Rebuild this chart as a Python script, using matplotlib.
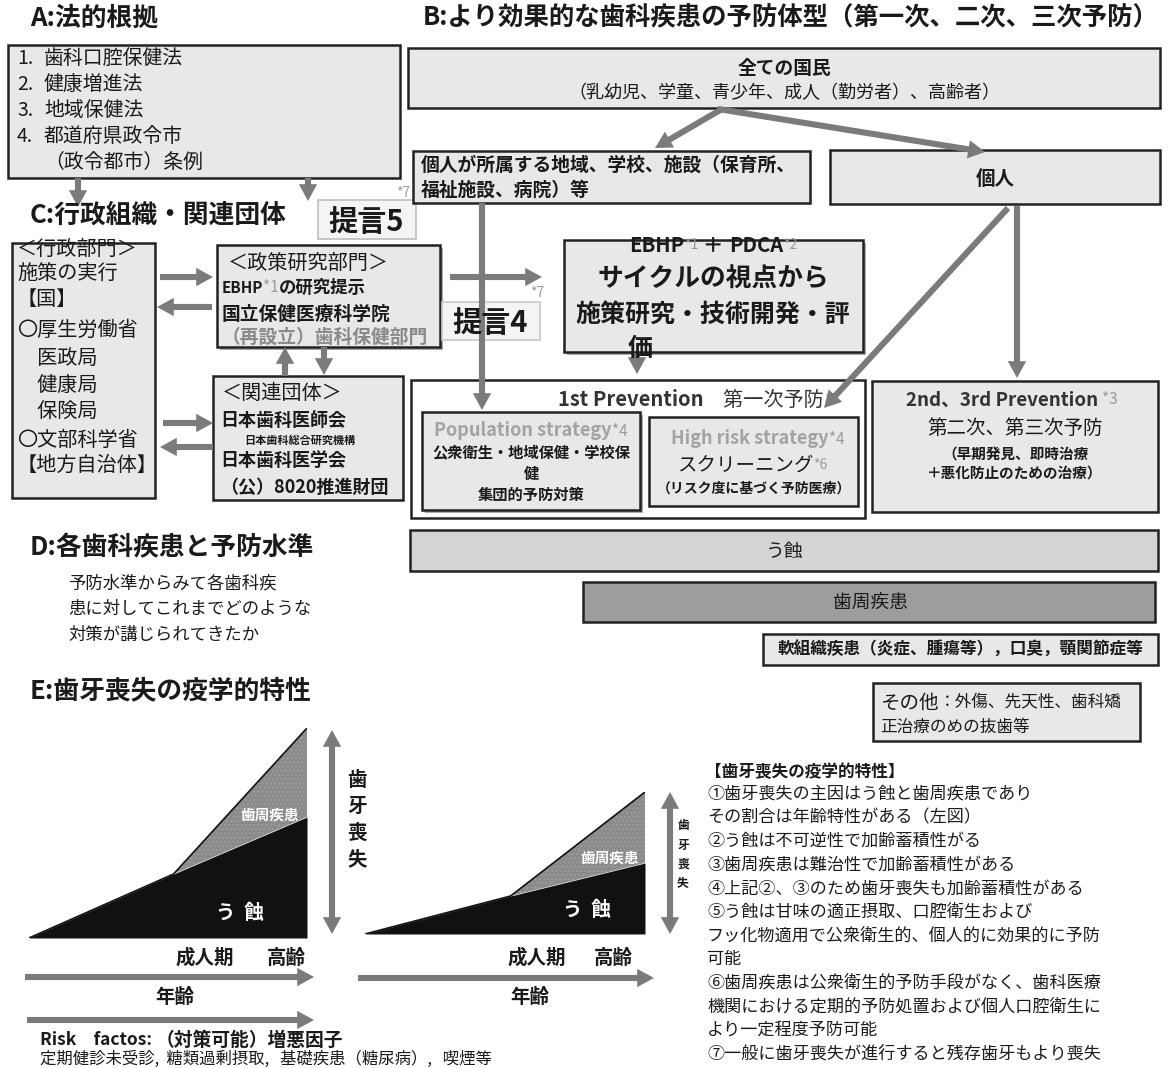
import matplotlib
matplotlib.use('Agg')
import matplotlib.pyplot as plt
from matplotlib.patches import Rectangle, FancyArrowPatch

plt.rcParams['font.family'] = ['Noto Sans CJK JP', 'DejaVu Sans']

# ---- texts ----
title_a = 'A:法的根拠'
title_b = 'B:より効果的な歯科疾患の予防体型（第一次、二次、三次予防）'
title_c = 'C:行政組織・関連団体'
title_d = 'D:各歯科疾患と予防水準'
title_e = 'E:歯牙喪失の疫学的特性'

law_nums = ['1.', '2.', '3.', '4.', '']
law_items = ['歯科口腔保健法', '健康増進法', '地域保健法', '都道府県政令市', '（政令都市）条例']

admin_lines = ['＜行政部門＞', '施策の実行', '【国】', '〇厚生労働省', '　医政局', '　健康局',
               '　保険局', '〇文部科学省', '【地方自治体】']

d_lines = ['予防水準からみて各歯科疾', '患に対してこれまでどのような', '対策が講じられてきたか']

notes_title = '【歯牙喪失の疫学的特性】'
notes = ['①歯牙喪失の主因はう蝕と歯周疾患であり',
         'その割合は年齢特性がある（左図）',
         '②う蝕は不可逆性で加齢蓄積性がる',
         '③歯周疾患は難治性で加齢蓄積性がある',
         '④上記②、③のため歯牙喪失も加齢蓄積性がある',
         '⑤う蝕は甘味の適正摂取、口腔衛生および',
         'フッ化物適用で公衆衛生的、個人的に効果的に予防',
         '可能',
         '⑥歯周疾患は公衆衛生的予防手段がなく、歯科医療',
         '機関における定期的予防処置および個人口腔衛生に',
         'より一定程度予防可能',
         '⑦一般に歯牙喪失が進行すると残存歯牙もより喪失']

risk_title = ('Risk　factos: ', '（対策可能）増悪因子')
risk_items = '定期健診未受診,  糖類過剰摂取,   基礎疾患（糖尿病）,   喫煙等'

# ---- tooth loss curves (relative units) ----
age_pts = [0, 52, 100]
caries_left = [0, 64, 121]
total_left = [0, 64, 210]
caries_right = [0, 38, 71]
total_right = [0, 38, 142]

BOX = '#e8e8e8'
ARR = '#7b7b7b'
STAR = '#9a9a9a'

W, H = 1168, 1068
fig = plt.figure(figsize=(W / 100, H / 100), dpi=100)
ax = fig.add_axes([0, 0, 1, 1])
ax.set_xlim(0, W)
ax.set_ylim(H, 0)
ax.axis('off')
renderer = fig.canvas.get_renderer()


def box(x0, y0, x1, y1, fc=BOX, ec='#222222', lw=1.8, shadow=False, z=1):
    if shadow:
        ax.add_patch(Rectangle((x0 + 3, y0 + 3), x1 - x0, y1 - y0, fc='#aaaaaa', ec='none', zorder=z - 0.1))
    ax.add_patch(Rectangle((x0, y0), x1 - x0, y1 - y0, fc=fc, ec=ec, lw=lw, zorder=z))


def t(x, y, s, size=13, bold=False, color='#1a1a1a', ha='left', va='center', z=5, on=None):
    target = on if on is not None else ax
    return target.text(x, y, s, fontsize=size, fontweight='bold' if bold else 'normal',
                       color=color, ha=ha, va=va, zorder=z, transform=ax.transData, clip_on=False)


def runs(x, y, pieces, ha='left', z=5):
    # pieces: (text, size, bold, color)
    objs = []
    cx = x
    for s, size, bold, color in pieces:
        o = t(cx, y, s, size, bold, color, z=z)
        w = o.get_window_extent(renderer).width
        objs.append(o)
        cx += w
    total = cx - x
    if ha == 'center':
        for o in objs:
            o.set_x(o.get_position()[0] - total / 2)
    return objs


def arrow(x0, y0, x1, y1, tw=0.2, hw=0.6, hl=0.55, z=3):
    ax.add_patch(FancyArrowPatch((x0, y0), (x1, y1),
                                 arrowstyle=f'simple,head_length={hl},head_width={hw},tail_width={tw}',
                                 mutation_scale=22, color=ARR, lw=0, shrinkA=0, shrinkB=0, zorder=z))


def dbl_arrow(x, y0, y1):
    m = (y0 + y1) / 2
    arrow(x, m, x, y0)
    arrow(x, m, x, y1)


# ---- section titles ----
t(30, 18, title_a, 18.5, True)
t(423, 18, title_b, 18.3, True)
t(30, 215, title_c, 18.5, True)
t(30, 548, title_d, 18.5, True)
t(30, 691, title_e, 18.5, True)

# ---- A ----
box(8, 45, 400, 178)
for i, (n, s) in enumerate(zip(law_nums, law_items)):
    y = 58 + i * 26.2
    t(17, y, n, 14)
    t(44, y, s, 14.3)
arrow(78, 178, 78, 207)
arrow(308, 178, 308, 201)

# 提言5
box(318, 200, 416, 239, fc='#f4f4f4', ec='#bdbdbd', lw=1.2)
t(366, 222, '提言5', 21, True, ha='center')
t(403, 193, '*7', 10, color=STAR, ha='center')

# ---- C ----
box(12, 243, 155, 498)
admin_y = [249, 273, 299, 330, 358, 385, 412, 440, 465]
for s, y in zip(admin_lines, admin_y):
    t(17, y, s, 14.5)

box(217, 245, 440, 347, shadow=True)
t(228, 263, '＜政策研究部門＞', 14.5)
runs(222, 288, [('EBHP', 11, True, '#1a1a1a'), ('*1', 11, False, STAR), ('の研究提示', 12.5, True, '#1a1a1a')])
t(222, 314, '国立保健医療科学院', 13.5, True)
t(222, 337, '（再設立）歯科保健部門', 13.5, True, color='#8a8a8a')

box(213, 376, 403, 500)
t(222, 393, '＜関連団体＞', 14.5)
t(220, 420, '日本歯科医師会', 13, True)
t(244, 440, '日本歯科総合研究機構', 8, True)
t(220, 461, '日本歯科医学会', 13, True)
t(220, 487, '（公）8020推進財団', 13, True)

arrow(160, 277, 213, 277)
arrow(212, 307, 157, 307)
arrow(285, 376, 285, 347)
arrow(324, 347, 324, 375)
arrow(163, 423, 213, 423)
arrow(213, 447, 160, 447)

# ---- B ----
box(408, 48, 1160, 108)
t(784, 68, '全ての国民', 13.5, True, ha='center')
t(784, 93, '（乳幼児、学童、青少年、成人（勤労者）、高齢者）', 13, ha='center')
arrow(722, 109, 655, 148)
arrow(718, 109, 985, 152)

box(413, 151, 810, 203)
t(421, 165, '個人が所属する地域、学校、施設（保育所、', 13.5, True)
t(421, 190, '福祉施設、病院）等', 13.5, True)

box(830, 150, 1160, 204)
t(995, 179, '個人', 14, True, ha='center')

# line from community box down to population strategy
arrow(482, 203, 482, 410, z=4)
arrow(450, 277, 542, 277)
t(537, 293, '*7', 10, color=STAR, ha='center')
box(442, 302, 540, 340, fc='#f4f4f4', ec='#c8c8c8', lw=1.2, z=3.5)
t(490, 323, '提言4', 21, True, ha='center', z=6)

box(564, 240, 863, 352, shadow=True)
runs(713, 245, [('EBHP', 14.5, True, '#1a1a1a'), ('*1', 10, False, STAR), (' ＋ ', 15, True, '#1a1a1a'),
                ('PDCA', 14.5, True, '#1a1a1a'), ('*2', 10, False, STAR)], ha='center')
t(713, 279, 'サイクルの視点から', 18.5, True, ha='center')
t(713, 315, '施策研究・技術開発・評', 18, True, ha='center')
t(640, 349, '価', 18, True, ha='center')
arrow(637, 353, 637, 374)

# from individual
arrow(1008, 208, 824, 408, z=6)
arrow(1017, 206, 1017, 378)

# 1st prevention
box(411, 380, 865, 518, fc='white', z=0.8)
runs(698, 400, [('1st Prevention', 14.5, True, '#333333'), ('　第一次予防', 14.5, False, '#333333'),
                ('*3', 10, False, STAR)], ha='center')
box(422, 412, 640, 510, shadow=True)
runs(531, 431, [('Population strategy', 13, True, '#a3a3a3'), ('*4', 11, False, STAR)], ha='center')
t(531, 452, '公衆衛生・地域保健・学校保', 11, True, ha='center')
t(531, 474, '健', 11, True, ha='center')
t(531, 495, '集団的予防対策', 11, True, ha='center')

box(649, 417, 858, 506)
runs(758, 439, [('High risk strategy', 13, True, '#a3a3a3'), ('*4', 11, False, STAR)], ha='center')
runs(752, 465, [('スクリーニング', 14, False, '#1a1a1a'), ('*6', 10, False, STAR)], ha='center')
t(754, 489, '（リスク度に基づく予防医療）', 10, True, ha='center')

box(872, 381, 1158, 512)
runs(1012, 400, [('2nd、3rd Prevention ', 13.5, True, '#333333'), ('*3', 11, False, STAR)], ha='center')
t(1015, 428, '第二次、第三次予防', 14, ha='center')
t(1015, 454, '（早期発見、即時治療', 10.5, True, ha='center')
t(1015, 473, '＋悪化防止のための治療）', 10.5, True, ha='center')

# ---- D ----
for i, s in enumerate(d_lines):
    t(68, 583 + i * 26, s, 12.5)

box(410, 530, 1158, 571, fc='#d4d4d4')
t(785, 551, 'う蝕', 13.5, ha='center')
box(583, 582, 1155, 622, fc='#9d9d9d')
t(870, 602, '歯周疾患', 13.5, ha='center')
box(763, 634, 1158, 665)
t(960, 650, '軟組織疾患（炎症、腫瘍等），口臭，顎関節症等', 12, True, ha='center')
box(873, 683, 1140, 741)
runs(880, 703, [('その他', 14, False, '#1a1a1a'), ('：外傷、先天性、歯科矯', 12, False, '#1a1a1a')])
t(880, 727, '正治療のめの抜歯等', 12)


# ---- E: tooth loss charts ----
def chart(x0, x1, ybase, ytop, caries, total, labels):
    cax = fig.add_axes([x0 / W, 1 - ybase / H, (x1 - x0) / W, (ybase - ytop) / H])
    cax.fill_between(age_pts, 0, caries, color='#111111', lw=0)
    cax.fill_between(age_pts, caries, total, facecolor='#8a8a8a', lw=0, hatch='....', edgecolor='#9c9c9c')
    cax.plot(age_pts, total, color='#111111', lw=1.2)
    cax.set_xlim(0, 100)
    cax.set_ylim(0, max(total))
    cax.axis('off')
    for (lx, ly, s, size) in labels:
        t(lx, ly, s, size, True, color='white', ha='center', z=10, on=cax)
    return cax


chart(29, 307, 938, 728, caries_left, total_left,
      [(270, 815, '歯周疾患', 10.5), (240, 913, 'う  蝕', 14)])
chart(365, 645, 934, 792, caries_right, total_right,
      [(610, 858, '歯周疾患', 10.5), (587, 910, 'う  蝕', 14)])

dbl_arrow(332, 730, 934)
for i, ch in enumerate('歯牙喪失'):
    t(357, 780 + i * 26.5, ch, 14, True, ha='center')
dbl_arrow(670, 792, 934)
for i, ch in enumerate('歯牙喪失'):
    t(683, 826 + i * 19, ch, 8.5, True, ha='center')

t(205, 958, '成人期', 14, True, ha='center')
t(286, 958, '高齢', 14, True, ha='center')
arrow(25, 977, 314, 977)
t(175, 997, '年齢', 14, True, ha='center')
arrow(27, 1020, 314, 1020)
runs(40, 1040, [(risk_title[0], 12.5, True, '#1a1a1a'), (risk_title[1], 13.5, True, '#1a1a1a')])
t(40, 1059, risk_items, 11.8)

t(537, 958, '成人期', 14, True, ha='center')
t(613, 958, '高齢', 14, True, ha='center')
arrow(358, 978, 654, 978)
t(530, 997, '年齢', 14, True, ha='center')

t(705, 772, notes_title, 12, True)
for i, s in enumerate(notes):
    t(707, 794 + i * 23.6, s, 12.3)

fig.savefig('out.png', dpi=100)
